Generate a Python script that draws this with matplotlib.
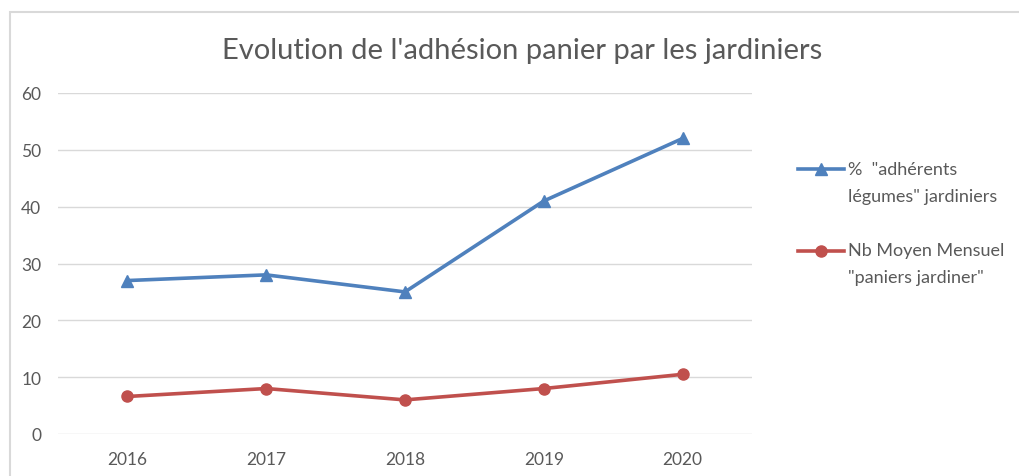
import matplotlib.pyplot as plt
from matplotlib.patches import Rectangle
from matplotlib.legend_handler import HandlerLine2D

# data
annees = ['2016', '2017', '2018', '2019', '2020']
pct_adherents = [27, 28, 25, 41, 52]
nb_paniers = [6.6, 8, 6, 8, 10.5]
yticks = [0, 10, 20, 30, 40, 50, 60]

plt.rcParams['font.family'] = ['Lato', 'DejaVu Sans']

LEG_FS = 13
LEG_LS = 1.8


class FirstLineHandler(HandlerLine2D):
    # put the legend line next to the first line of a two-line label
    def create_artists(self, legend, orig_handle, xdescent, ydescent,
                       width, height, fontsize, trans):
        shift = 1.46 * fontsize
        return super().create_artists(legend, orig_handle, xdescent, ydescent - shift,
                                      width, height, fontsize, trans)


fig = plt.figure(figsize=(10.19, 4.77), dpi=100)
# chart frame (light grey border)
fig.patches.append(Rectangle((10 / 1019, -0.1), 1.2, 1 - 13 / 477 + 0.1,
                             transform=fig.transFigure, fill=False,
                             edgecolor='#D9D9D9', linewidth=1.5))

ax = fig.add_axes([58 / 1019, 1 - 435 / 477, (752 - 58) / 1019, (435 - 94) / 477])
x = range(len(annees))
l1, = ax.plot(x, pct_adherents, color='#4F81BD', linewidth=2.6, marker='^', markersize=8,
              label='%  "adhérents\nlégumes" jardiniers')
l2, = ax.plot(x, nb_paniers, color='#C0504D', linewidth=2.6, marker='o', markersize=8,
              label='Nb Moyen Mensuel\n"paniers jardiner"')

ax.set_xlim(-0.5, 4.5)
ax.set_ylim(0, 60)
ax.set_xticks(list(x))
ax.set_xticklabels(annees)
ax.set_yticks(yticks)
ax.tick_params(length=0, labelsize=12.5, colors='#595959', pad=12)
ax.grid(axis='y', color='#D9D9D9', linewidth=1)
ax.set_axisbelow(True)
for s in ax.spines.values():
    s.set_visible(False)

fig.text(522 / 1019, 1 - 51 / 477, "Evolution de l'adhésion panier par les jardiniers",
         ha='center', va='center', fontsize=21, color='#595959')

leg = fig.legend(loc='upper left', bbox_to_anchor=(782 / 1019, 1 - 146 / 477),
                 frameon=False, fontsize=LEG_FS, labelcolor='#595959', handlelength=2.55,
                 handletextpad=0.2, labelspacing=2.15,
                 handler_map={l1: FirstLineHandler(), l2: FirstLineHandler()})
for t in leg.get_texts():
    t.set_linespacing(LEG_LS)

fig.savefig('out.png', dpi=100)
